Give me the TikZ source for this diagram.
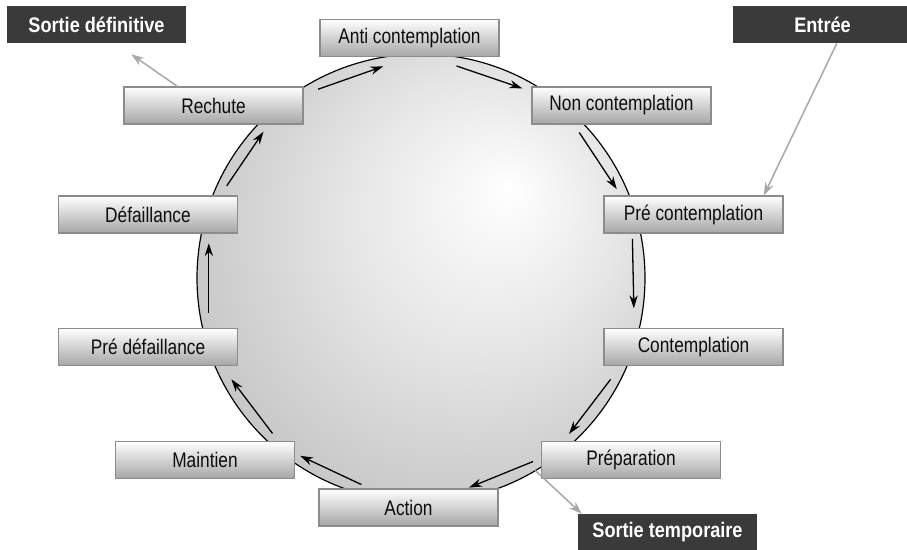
\documentclass[tikz,border=0pt]{standalone}
\usepackage[svgnames, dvipsnames]{xcolor}
\usepackage{fontspec}
\setmainfont{Liberation Sans}[FakeStretch=0.82, BoldFeatures={FakeStretch=0.86}]
\usetikzlibrary{calc, arrows.meta}
\tikzset{>=latex}
\definecolor{boxedge}{HTML}{8C8C8C}
\definecolor{boxdark}{HTML}{3A3A3A}
\definecolor{linkgrey}{HTML}{A8A8A8}
\definecolor{bulleA}{HTML}{E6E6E6}
\definecolor{bulleB}{HTML}{D2D2D2}
\definecolor{bulleC}{HTML}{BDBDBD}
\definecolor{bulleD}{HTML}{B2B2B2}
\pgfdeclareradialshading{bulle}{\pgfpoint{10bp}{10bp}}{%
  color(0bp)=(white); color(15bp)=(bulleA); color(25bp)=(bulleB);
  color(36bp)=(bulleC); color(50bp)=(bulleD)}

\begin{document}
\begin{tikzpicture}[x=0.03cm, y=0.03cm,
    etape/.style={draw=boxedge, line width=0.9pt, top color=white, bottom color=gray!70,
      minimum width=5.37cm, minimum height=1.11cm, inner sep=0pt,
      font=\fontsize{18}{21}\selectfont, text=black!95},
    sortie/.style={fill=boxdark, minimum width=5.37cm, minimum height=1.11cm, inner sep=0pt,
      font=\fontsize{18}{21}\selectfont\bfseries, text=white},
    tour/.style={-{Stealth[length=11pt, width=7pt]}, line width=1.1pt},
    lien/.style={draw=linkgrey, -{Stealth[length=11pt, width=7.5pt]}, line width=1.3pt}]
    \useasboundingbox (0,0) rectangle (907,549);
    % the wheel
    \coordinate (c) at (421,271);
    \shade[shading=bulle] (c) circle (224);
    \draw[line width=1pt] (c) circle (224);
    \foreach \a/\b in {118.6/100.1, 80.5/61.9, 42.6/24.4, 10.5/-8.1, -28.1/-46.5,
      -58.6/-77.1, -106.1/-124.2, -133.7/-151.9, -170.7/-189.3, 154.6/137.1}
      \draw[tour] ($(c)+(\a:215)$) -- ($(c)+(\b:215)$);
    % stages
    \node[etape] (anti) at (409.5,511) {Anti contemplation};
    \node[etape] (nonc) at (621.5,443.5) {Non contemplation};
    \node[etape] (precont) at (693.5,334.5) {Pré contemplation};
    \node[etape] (cont) at (693.5,202) {Contemplation};
    \node[etape] (prep) at (631,89) {Préparation};
    \node[etape] (action) at (408.5,41.5) {Action};
    \node[etape] (maint) at (205,89) {Maintien};
    \node[etape] (predef) at (148,202) {Pré défaillance};
    \node[etape] (defail) at (148,334.5) {Défaillance};
    \node[etape] (rechute) at (213.5,443.5) {Rechute};
    % ways in and out
    \node[sortie] (sortdef) at (96.5,524.5) {Sortie définitive};
    \node[sortie] (entree) at (822.5,524.5) {Entrée};
    \node[sortie] (sorttemp) at (667.5,16.5) {Sortie temporaire};
    \coordinate (fuite) at ($(c)+(-59.3:224)$);
    \draw[lien, shorten >=0.58cm] ($(rechute.north)!0.4!(rechute.north west)$)
      -- ($(sortdef.south)!0.21!(sortdef.south east)$);
    \draw[lien] ($(entree.south)!0.16!(entree.south east)$)
      -- ($(precont.north)!0.78!(precont.north east)$);
    \draw[lien] (fuite) -- ($(sorttemp.north west)+(4,0)$);
\end{tikzpicture}
\end{document}
